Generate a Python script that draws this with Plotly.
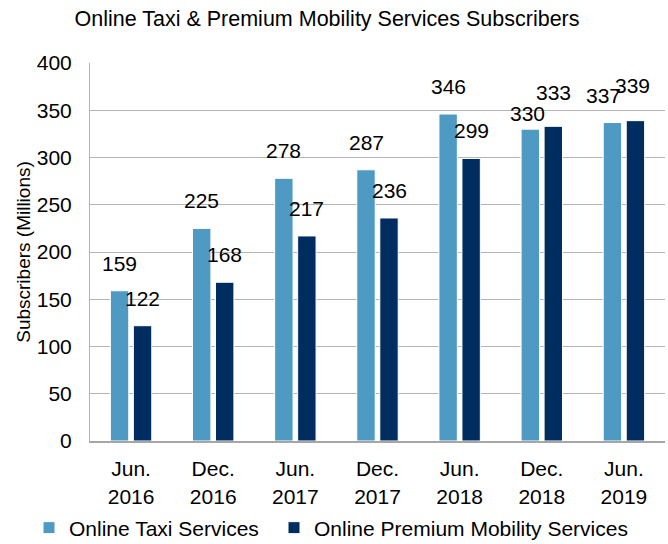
import plotly.graph_objects as go

# категорії та значення
periods = ["Jun.<br>2016", "Dec.<br>2016", "Jun.<br>2017", "Dec.<br>2017",
           "Jun.<br>2018", "Dec.<br>2018", "Jun.<br>2019"]
taxi = [159, 225, 278, 287, 346, 330, 337]
premium = [122, 168, 217, 236, 299, 333, 339]

FONT = "Arial, Liberation Sans, sans-serif"
LIGHT = "#4F9AC3"
DARK = "#002D5F"

fig = go.Figure()
fig.add_trace(go.Bar(x=periods, y=taxi, name="Online Taxi Services", legend="legend",
                     marker=dict(color=LIGHT, line=dict(color="white", width=1))))
fig.add_trace(go.Bar(x=periods, y=premium, name="Online Premium Mobility Services",
                     legend="legend2",
                     marker=dict(color=DARK, line=dict(color="white", width=1))))

# підписи значень над стовпчиками (зсуви як у Excel-оригіналі)
tweak = {(0, 5): (-3, -12), (0, 6): (-9, 0), (1, 5): (0, 6), (1, 6): (-3, 8)}
for s, vals in enumerate([taxi, premium]):
    side = -11.5 if s == 0 else 11.5
    for i, v in enumerate(vals):
        dx, dy = tweak.get((s, i), (0, 0))
        fig.add_annotation(x=periods[i], y=v, text=str(v), showarrow=False,
                           xshift=side + dx, yshift=14 + dy, yanchor="bottom",
                           font=dict(size=21, color="black", family=FONT))

leg = dict(orientation="h", xref="container", yref="container",
           y=16 / 544, xanchor="left", yanchor="middle",
           font=dict(size=21), itemwidth=30, bgcolor="rgba(0,0,0,0)")

fig.update_layout(
    width=668, height=544,
    margin=dict(l=90, r=3, t=63, b=103, autoexpand=False),
    paper_bgcolor="white", plot_bgcolor="white",
    font=dict(family=FONT, size=21, color="black"),
    title=dict(text="Online Taxi & Premium Mobility Services Subscribers",
               xref="container", x=327 / 668, xanchor="center",
               yref="container", y=1 - 18 / 544, yanchor="middle",
               font=dict(size=21.5, color="black")),
    barmode="group", bargap=0.44, bargroupgap=0.2,
    showlegend=True,
    legend=dict(leg, x=29 / 668),
    legend2=dict(leg, x=274 / 668),
    xaxis=dict(showline=True, linecolor="#A6A6A6", linewidth=2,
               ticks="outside", ticklen=8, tickcolor="rgba(0,0,0,0)",
               tickfont=dict(size=21), automargin=False),
    yaxis=dict(range=[0, 400], dtick=50, showgrid=True, gridcolor="#B4B4B4",
               gridwidth=1.2, showline=True, linecolor="#B4B4B4", linewidth=1,
               zeroline=False, ticks="outside", ticklen=13,
               tickcolor="rgba(0,0,0,0)", tickfont=dict(size=21),
               automargin=False,
               title=dict(text="Subscribers (Millions)", font=dict(size=19),
                          standoff=1)),
)

# прибираємо стандартний відступ body, щоб фігура стояла в (0, 0)
fig.write_html("out.html", config={"displayModeBar": False},
               post_script="document.body.style.margin='0';")
